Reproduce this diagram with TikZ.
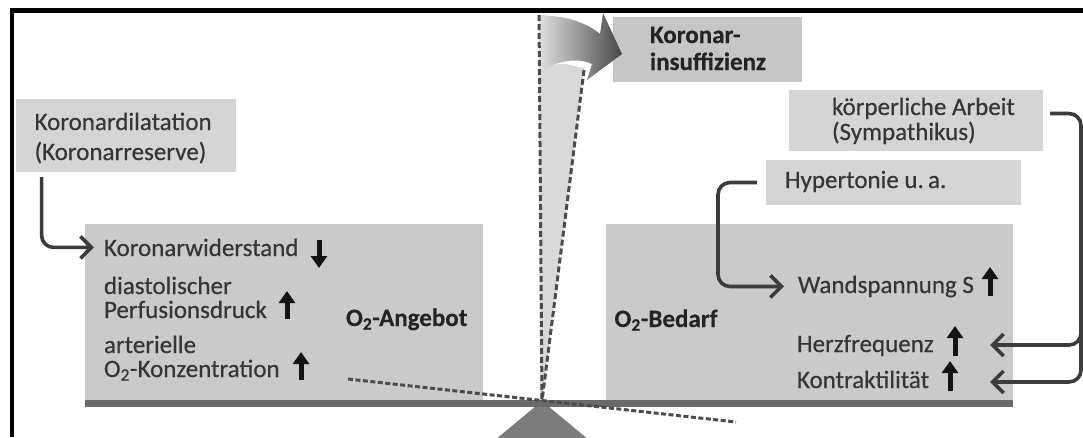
\documentclass[tikz,border=0pt]{standalone}
\usepackage{fontspec}
\setmainfont{Carlito}[FakeBold=0.4]
\newfontfamily\regfont{Carlito}[FakeBold=0.5,BoldFont={Carlito Bold}]
\usetikzlibrary{arrows.meta,fit,calc}
\definecolor{boxL}{HTML}{D5D5D5}
\definecolor{boxM}{HTML}{C6C6C6}
\definecolor{boxB}{HTML}{CACACA}
\definecolor{beamC}{HTML}{6A6A6A}
\definecolor{fulC}{HTML}{7C7C7C}
\definecolor{wedgeC}{HTML}{D9D9D9}
\definecolor{lineC}{HTML}{3C3C3C}
\definecolor{dashC}{HTML}{4C4C4C}
\definecolor{txtC}{HTML}{363636}
\definecolor{boldC}{HTML}{242424}
\definecolor{arrC}{HTML}{141414}
\begin{document}
\begin{tikzpicture}[x=1pt,y=-1pt,
  lbox/.style={fill=boxL, inner sep=0pt, outer sep=0pt},
  mbox/.style={fill=boxM, inner sep=0pt, outer sep=0pt},
  bbox/.style={fill=boxB, inner sep=0pt, outer sep=0pt},
  txt/.style={anchor=base west, inner sep=0pt, outer sep=0pt, text=txtC, font=\regfont\fontsize{25}{25}\selectfont},
  btxt/.style={anchor=base west, inner sep=0pt, outer sep=0pt, text=boldC, font=\fontsize{25}{25}\selectfont\bfseries},
  conn/.style={draw=lineC, line width=3.6pt, rounded corners=12pt, -{Straight Barb[length=11pt,width=22pt]}},
  updn/.style={draw=arrC, line width=5pt, -{Triangle[length=12pt,width=16pt]}},
  dsh/.style={draw=dashC, line width=3pt, dash pattern=on 6pt off 3pt}
]
\useasboundingbox (0,0) rectangle (1083,437);
% frame
\draw[line width=4.2pt, line join=miter] (11.8,437) -- (11.8,10.5) -- (1083,10.5);
% boxes
\node[lbox, fit={(15.6,99) (236,172)}] (kdb) {};
\node[mbox, fit={(613,17) (802,82)}] (kib) {};
\node[lbox, fit={(789,90) (1043,151)}] (kab) {};
\node[lbox, fit={(766,160) (1021,205)}] (hb) {};
\node[bbox, fit={(85,224) (483,400)}] (ab) {};
\node[bbox, fit={(606,224) (1013,400)}] (bb) {};
% wedge and curved arrow
\fill[wedgeC] (539,76) .. controls (545,66) and (556,63) .. (566,64) -- (584,68) -- (542,401) -- (540,401) -- cycle;
\shade[left color=black!12, right color=black!72]
  (539,15) .. controls (570,16) and (588,24) .. (600,34) -- (603,13) -- (622,54) -- (587,80) -- (592,64)
  .. controls (580,58) and (560,60) .. (548,68) .. controls (543,72) and (540,78) .. (539,84) -- cycle;
% fulcrum and beam
\fill[fulC] (542,401) -- (495,440) -- (589,440) -- cycle;
\fill[beamC] (85,400) rectangle (1013,407);
% dashed lines
\draw[dsh] (539,15) -- (542,401);
\draw[dsh] (584,70) -- (542,401);
\draw[dsh, dash pattern=on 5pt off 2.5pt] (348,379) -- (736,422);
% texts
\node[txt] (kd1) at (34.6,130) {Koronardilatation};
\node[txt] (kd2) at (34.6,160) {(Koronarreserve)};
\node[btxt] (ki1) at (650,43) {Koronar-};
\node[btxt] (ki2) at (650,70) {insuffizienz};
\node[txt] (ka1) at (832,115) {körperliche Arbeit};
\node[txt] (ka2) at (832,140) {(Sympathikus)};
\node[txt] (ht) at (785,188) {Hypertonie u.\,a.};
\node[txt] (kw) at (104,256) {Koronarwiderstand};
\node[txt] (ds) at (104,294) {diastolischer};
\node[txt] (pd) at (104,318) {Perfusionsdruck};
\node[txt] (ar) at (104,353) {arterielle};
\node[txt] (oc) at (104,377) {O\textsubscript{2}-Konzentration};
\node[btxt] (ang) at (346,326) {O\textsubscript{2}-Angebot};
\node[btxt] (bed) at (614.5,327) {O\textsubscript{2}-Bedarf};
\node[txt] (ws) at (798,293) {Wandspannung S};
\node[txt] (hf) at (797,352) {Herzfrequenz};
\node[txt] (kt) at (797,388) {Kontraktilität};
% small up/down arrows
\draw[updn] (319,240) -- (319,268);
\draw[updn] (287,319) -- (287,291);
\draw[updn] (301,380) -- (301,352);
\draw[updn] (990,296) -- (990,267);
\draw[updn] (955,356) -- (955,326);
\draw[updn] (950,391) -- (950,361);
% connectors
\coordinate (kx) at (41.6,0);
\coordinate (hx) at (718,240);
\coordinate (rx) at (1081,250);
\coordinate (rx2) at (1081,330);
\coordinate (hftip) at (990,345);
\coordinate (kttip) at (990,382);
\draw[conn] ([yshift=-5pt]kdb.south -| kx) |- ([xshift=-10pt]kw.west);
\draw[conn] ([xshift=-9pt]hb.west) -| (hx) |- ([xshift=-14pt]ws.west);
\draw[conn] ([xshift=7pt,yshift=7pt]kab.east) -| (rx) |- (hftip);
\draw[conn] (rx2) |- (kttip);
\end{tikzpicture}
\end{document}
